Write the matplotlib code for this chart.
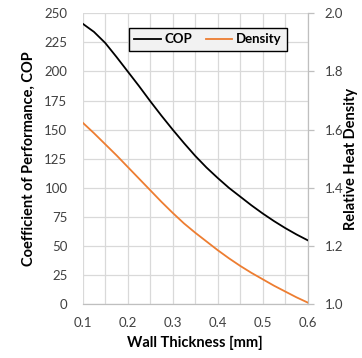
import matplotlib.pyplot as plt
from matplotlib.ticker import MultipleLocator

plt.rcParams.update({"font.family": ["Lato", "DejaVu Sans"], "font.size": 9})

# values
thickness = [0.100, 0.125, 0.150, 0.175, 0.200, 0.225, 0.250, 0.275, 0.300, 0.325, 0.350,
             0.375, 0.400, 0.425, 0.450, 0.475, 0.500, 0.525, 0.550, 0.575, 0.600]
cop = [241, 234, 224.5, 212.5, 200, 187.5, 174.5, 162, 150, 138.5, 127.5,
       117.5, 108.5, 100, 92.5, 85, 78, 71.5, 65.5, 60, 55]
density = [1.624, 1.588, 1.550, 1.512, 1.472, 1.432, 1.392, 1.352, 1.314, 1.278, 1.246,
           1.216, 1.186, 1.158, 1.132, 1.108, 1.086, 1.064, 1.044, 1.024, 1.006]

GRID = "#d9d9d9"
TICK = "#404040"
ORANGE = "#ed7d31"


def main() -> None:
    fig = plt.figure(figsize=(3.62, 3.58), dpi=100)
    ax = fig.add_axes([0.2285, 0.150, 0.6215, 0.813])
    ax2 = ax.twinx()

    l1, = ax.plot(thickness, cop, color="black", lw=1.3, label="COP", zorder=3)
    l2, = ax2.plot(thickness, density, color=ORANGE, lw=1.3, label="Density", zorder=3)

    ax.set_xlim(0.1, 0.6)
    ax.set_ylim(0, 250)
    ax2.set_ylim(1.0, 2.0)

    ax.xaxis.set_major_locator(MultipleLocator(0.1))
    ax.xaxis.set_minor_locator(MultipleLocator(0.05))
    ax.yaxis.set_major_locator(MultipleLocator(25))
    ax2.yaxis.set_major_locator(MultipleLocator(0.2))
    ax.xaxis.set_major_formatter(plt.FormatStrFormatter("%.1f"))
    ax2.yaxis.set_major_formatter(plt.FormatStrFormatter("%.1f"))

    ax.grid(True, which="both", color=GRID, lw=0.9, zorder=0)
    ax.set_axisbelow(True)

    for a in (ax, ax2):
        for side in ("top", "left"):
            a.spines[side].set_visible(False)
        a.spines["bottom"].set_color("#bfbfbf")
        a.spines["right"].set_color("#bfbfbf")

    ax.tick_params(axis="x", which="both", length=0, pad=9, colors=TICK, labelsize=9.5)
    ax.tick_params(axis="y", length=0, pad=11, colors=TICK, labelsize=9.5)
    ax2.tick_params(axis="y", length=4, width=0.9, color="#bfbfbf", pad=8,
                    labelcolor=TICK, labelsize=9.5)

    ax.set_xlabel("Wall Thickness [mm]", fontsize=10.5, fontweight="bold", labelpad=5)
    ax.set_ylabel("Coefficient of Performance, COP", fontsize=10.5, fontweight="bold", labelpad=6)
    ax2.set_ylabel("Relative Heat Density", fontsize=10.5, fontweight="bold", labelpad=1)

    leg = ax2.legend(
        [l1, l2],
        ["COP", "Density"],
        loc="center",
        bbox_to_anchor=(0.557, 0.91),
        ncol=2,
        fancybox=False,
        framealpha=1,
        handlelength=2.0,
        handletextpad=0.3,
        columnspacing=1.0,
        borderpad=0.4,
        prop={"weight": "bold", "size": 9.5},
    )
    leg.get_frame().set_facecolor("#f2f2f2")
    leg.get_frame().set_edgecolor("black")
    leg.get_frame().set_linewidth(1.0)

    fig.savefig("out.png", dpi=100)
    plt.close(fig)


if __name__ == "__main__":
    main()
